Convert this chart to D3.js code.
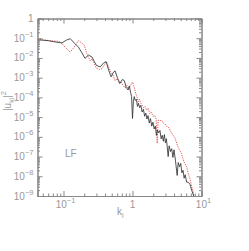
<!DOCTYPE html>
<html>
<head>
<meta charset="utf-8">
<script src="https://cdn.jsdelivr.net/npm/d3@7"></script>
<style>
  body { margin: 0; background: #fff; }
  svg { display: block; font-family: "Liberation Sans", Arial, sans-serif; }
  .lbl { fill: #999; font-size: 10px; }
</style>
</head>
<body>
<svg id="chart" width="249" height="251"></svg>
<script>
// black (solid) spectrum
const blackK = [0.042, 0.06, 0.08, 0.095, 0.11, 0.125, 0.145, 0.165, 0.185, 0.205, 0.23, 0.26, 0.28, 0.30, 0.34, 0.38, 0.415, 0.45, 0.49, 0.53, 0.56, 0.61, 0.66, 0.71, 0.76, 0.81, 0.86, 0.9, 0.94, 0.97, 1.0, 1.03, 1.06, 1.1, 1.14, 1.18, 1.22, 1.27, 1.32, 1.38, 1.44, 1.5, 1.56, 1.62, 1.68, 1.75, 1.82, 1.9, 1.98, 2.06, 2.14, 2.22, 2.3, 2.4, 2.5, 2.6, 2.7, 2.8, 2.9, 3.0, 3.1, 3.29, 3.4, 3.55, 3.7, 3.85, 4.0, 4.2, 4.44, 4.6, 4.8, 5.0, 5.2, 5.4, 5.6, 5.8, 6.1, 6.4, 6.8, 7.2, 7.7];
const blackE = [0.085, 0.075, 0.063, 0.058, 0.08, 0.095, 0.055, 0.035, 0.018, 0.0095, 0.014, 0.011, 0.0065, 0.0042, 0.0035, 0.0055, 0.0065, 0.0025, 0.0011, 0.0019, 0.0022, 0.0009, 0.00052, 0.0008, 0.00072, 0.00032, 0.00024, 0.00038, 0.00017, 0.00011, 8.5e-6, 6e-5, 1.1e-4, 7e-5, 8e-5, 3.5e-5, 5e-5, 3e-5, 4e-5, 1.8e-5, 2.5e-5, 1.1e-5, 1.6e-5, 8e-6, 1.2e-5, 5e-6, 8.5e-6, 3.5e-6, 5.5e-6, 2.5e-6, 3.5e-6, 1.2e-6, 2.2e-6, 1.6e-6, 2.1e-6, 8e-7, 1.2e-6, 6e-7, 1.3e-6, 5e-7, 8e-7, 1e-7, 3.5e-7, 1.8e-7, 2.5e-7, 9e-8, 2.2e-7, 6e-8, 1.1e-8, 5e-8, 3e-8, 4.5e-8, 1.5e-8, 2e-8, 8e-9, 1.2e-8, 5e-9, 5e-9, 4e-9, 2e-9, 1e-9];

// red (dotted) spectrum
const redK = [0.042, 0.055, 0.07, 0.085, 0.095, 0.11, 0.125, 0.14, 0.155, 0.165, 0.18, 0.2, 0.22, 0.245, 0.26, 0.28, 0.3, 0.33, 0.36, 0.39, 0.42, 0.45, 0.48, 0.52, 0.56, 0.6, 0.64, 0.68, 0.73, 0.78, 0.83, 0.88, 0.93, 0.97, 1.0, 1.04, 1.08, 1.12, 1.17, 1.21, 1.26, 1.32, 1.38, 1.45, 1.52, 1.6, 1.69, 1.78, 1.88, 1.98, 2.1, 2.2, 2.28, 2.35, 2.5, 2.64, 2.8, 2.95, 3.1, 3.29, 3.5, 3.75, 4.11, 4.4, 4.7, 5.14, 5.5, 6.07, 6.5, 6.78, 7.2, 7.57, 7.8];
const redE = [0.085, 0.08, 0.072, 0.07, 0.055, 0.03, 0.02, 0.032, 0.055, 0.075, 0.06, 0.045, 0.015, 0.007, 0.009, 0.005, 0.003, 0.0026, 0.0028, 0.0045, 0.0063, 0.0035, 0.002, 0.0014, 0.0007, 0.0009, 0.0005, 0.0006, 0.0004, 0.0003, 0.0004, 0.00025, 0.0004, 0.0005, 0.0006, 0.0004, 0.00025, 0.00015, 1e-4, 6e-5, 8e-5, 5e-5, 4e-5, 3e-5, 3.5e-5, 2.2e-5, 2.8e-5, 1.5e-5, 1.8e-5, 1.1e-5, 1.2e-5, 8e-6, 4.7e-7, 7e-6, 6.5e-6, 7e-6, 5e-6, 4.5e-6, 3.5e-6, 3.2e-6, 2.2e-6, 1.4e-6, 9e-7, 4.5e-7, 2.5e-7, 1.4e-7, 6e-8, 3e-8, 1.2e-8, 8e-9, 3e-9, 1.7e-9, 1e-9];

const xMajor = [0.1, 1, 10];
const xMajorLabels = [["10", "\u22121"], ["1", ""], ["10", "1"]];
const yMajor = [1, 1e-1, 1e-2, 1e-3, 1e-4, 1e-5, 1e-6, 1e-7, 1e-8, 1e-9];
const yMajorLabels = [["1", ""], ["10", "\u22121"], ["10", "\u22122"], ["10", "\u22123"], ["10", "\u22124"], ["10", "\u22125"], ["10", "\u22126"], ["10", "\u22127"], ["10", "\u22128"], ["10", "\u22129"]];

const svg = d3.select("#chart");
const L = 37.5, R = 201.5, T = 18.5, B = 196;

const x = d3.scaleLog().domain([0.042, 10]).range([L, R]);
const y = d3.scaleLog().domain([1e-9, 1]).range([B, T]);

// minor tick values
const xMinor = [];
[0.01, 0.1, 1].forEach(d => { for (let i = 2; i <= 9; i++) { const v = d * i; if (v >= 0.042 && v <= 10) xMinor.push(v); } });
const yMinor = [];
yMajor.slice(1).forEach(d => { for (let i = 2; i <= 9; i++) yMinor.push(d * i); });

svg.append("clipPath").attr("id", "clip")
  .append("rect").attr("x", L).attr("y", T).attr("width", R - L).attr("height", B - T);

const lineGen = (ks, es) => d3.line()
  .x((d, i) => x(ks[i]))
  .y((d, i) => y(es[i]))(ks);

svg.append("path")
  .attr("d", lineGen(redK, redE))
  .attr("clip-path", "url(#clip)")
  .attr("fill", "none")
  .attr("stroke", "#e04040")
  .attr("stroke-width", 0.9)
  .attr("stroke-dasharray", "1.2,1.2");

svg.append("path")
  .attr("d", lineGen(blackK, blackE))
  .attr("clip-path", "url(#clip)")
  .attr("fill", "none")
  .attr("stroke", "#333")
  .attr("stroke-width", 0.85);

// axes: inward ticks on all four sides
function drawAxis(axisFn, scale, vals, size, tx, ty) {
  const g = svg.append("g")
    .attr("transform", `translate(${tx},${ty})`)
    .call(axisFn(scale).tickValues(vals).tickSize(size).tickFormat(""));
  g.selectAll("path").attr("stroke", "#888");
  g.selectAll("line").attr("stroke", "#888");
  return g;
}
drawAxis(d3.axisBottom, x, xMajor, -5, 0, B);
drawAxis(d3.axisBottom, x, xMinor, -2.5, 0, B);
drawAxis(d3.axisTop, x, xMajor, -5, 0, T);
drawAxis(d3.axisTop, x, xMinor, -2.5, 0, T);
drawAxis(d3.axisLeft, y, yMajor, -5, L, 0);
drawAxis(d3.axisLeft, y, yMinor, -2.5, L, 0);
drawAxis(d3.axisRight, y, yMajor, -5, R, 0);
drawAxis(d3.axisRight, y, yMinor, -2.5, R, 0);

// tick labels with superscripts
function powLabel(parent, px, py, parts, anchor) {
  const t = parent.append("text").attr("class", "lbl")
    .attr("x", px).attr("y", py).attr("text-anchor", anchor);
  t.append("tspan").text(parts[0]);
  if (parts[1]) t.append("tspan").attr("dy", -5).attr("font-size", "7.5px").text(parts[1]);
  return t;
}
xMajor.forEach((v, i) => {
  powLabel(svg, x(v) + (xMajorLabels[i][1] ? 2 : 0), B + 12, xMajorLabels[i], "middle");
});
yMajor.forEach((v, i) => {
  powLabel(svg, L - 4, y(v) + 3.5, yMajorLabels[i], "end");
});

// axis titles
const xt = svg.append("text").attr("class", "lbl").attr("x", 117).attr("y", 215);
xt.append("tspan").text("k");
xt.append("tspan").attr("dy", 3).attr("font-size", "7px").text("i");

const yt = svg.append("text").attr("class", "lbl")
  .attr("transform", "translate(11,101) rotate(-90)")
  .attr("text-anchor", "middle");
yt.append("tspan").text("|u");
yt.append("tspan").attr("dy", 3).attr("font-size", "7px").text("ki");
yt.append("tspan").attr("dy", -3).text("|");
yt.append("tspan").attr("dy", -5).attr("font-size", "7.5px").text("2");

svg.append("text").attr("class", "lbl")
  .attr("x", 65).attr("y", 157).text("LF");
</script>
</body>
</html>
